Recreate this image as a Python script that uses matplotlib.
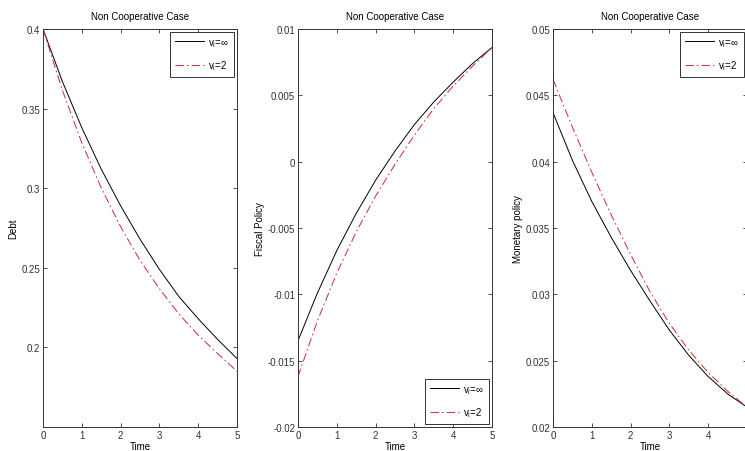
import matplotlib
matplotlib.use("Agg")
import matplotlib.pyplot as plt

# values at t = 0, 0.5, ..., 5
TIME = [0, 0.5, 1, 1.5, 2, 2.5, 3, 3.5, 4, 4.5, 5]

debt_inf = [0.400, 0.367, 0.338, 0.312, 0.289, 0.268, 0.249, 0.232, 0.218, 0.205, 0.193]
debt_two = [0.400, 0.3615, 0.3285, 0.3003, 0.2758, 0.2547, 0.2368, 0.2211, 0.2077, 0.1961, 0.185]

fiscal_inf = [-0.0135, -0.0099, -0.0067, -0.0039, -0.0014, 0.0008, 0.0028, 0.0045, 0.0060, 0.0074, 0.0086]
fiscal_two = [-0.0162, -0.0120, -0.0084, -0.0053, -0.0026, -0.0002, 0.0020, 0.0040, 0.0057, 0.0072, 0.0086]

monetary_inf = [0.0437, 0.0401, 0.0370, 0.0343, 0.0318, 0.0295, 0.0273, 0.0254, 0.0238, 0.0225, 0.0215]
monetary_two = [0.0462, 0.0426, 0.0392, 0.0360, 0.0330, 0.0302, 0.0278, 0.0258, 0.0241, 0.0227, 0.0215]

TITLE = "Non Cooperative Case"
LABELS = ["v$_\\mathregular{i}$=\u221e", "v$_\\mathregular{i}$=2"]

PANELS = [
    ("Debt", debt_inf, debt_two, (0.15, 0.4), [0.2, 0.25, 0.3, 0.35, 0.4],
     ["0.2", "0.25", "0.3", "0.35", "0.4"], "upper right"),
    ("Fiscal Policy", fiscal_inf, fiscal_two, (-0.02, 0.01),
     [-0.02, -0.015, -0.01, -0.005, 0, 0.005, 0.01],
     ["-0.02", "-0.015", "-0.01", "-0.005", "0", "0.005", "0.01"], "lower right"),
    ("Monetary policy", monetary_inf, monetary_two, (0.02, 0.05),
     [0.02, 0.025, 0.03, 0.035, 0.04, 0.045, 0.05],
     ["0.02", "0.025", "0.03", "0.035", "0.04", "0.045", "0.05"], "upper right"),
]

plt.rcParams["font.family"] = ["Liberation Sans Narrow", "Liberation Sans", "DejaVu Sans"]
plt.rcParams["font.size"] = 7
plt.rcParams["axes.unicode_minus"] = False

W, H = 745, 452
fig = plt.figure(figsize=(W / 100, H / 100), dpi=100)
lefts = [43, 298, 553]
for left, (ylab, s_inf, s_two, ylim, yt, ytl, loc) in zip(lefts, PANELS):
    ax = fig.add_axes([left / W, 24 / H, 194 / W, 398 / H])
    ax.plot(TIME, s_inf, color="black", lw=0.7, label=LABELS[0])
    ax.plot(TIME, s_two, color="#d03535", lw=0.75, ls=(0, (8, 3, 1.5, 3)), label=LABELS[1])
    ax.set_xlim(0, 5)
    ax.set_ylim(*ylim)
    ax.set_xticks(range(6))
    ax.set_yticks(yt)
    ax.set_yticklabels(ytl)
    ax.tick_params(direction="in", top=True, right=True, length=3, width=0.6,
                   labelsize=7, pad=2, colors="#333333")
    for sp in ax.spines.values():
        sp.set_linewidth(0.7)
        sp.set_color("#333333")
    ax.set_title(TITLE, fontsize=7, pad=7)
    ax.set_xlabel("Time", fontsize=7, labelpad=1)
    ax.set_ylabel(ylab, fontsize=7, labelpad=2)
    leg = ax.legend(loc=loc, fancybox=False, framealpha=1, edgecolor="#333333",
                    fontsize=7, handlelength=3.0, borderaxespad=0.3,
                    labelspacing=1.0, handletextpad=0.4, borderpad=0.5)
    leg.get_frame().set_linewidth(0.7)

fig.savefig("out.png", dpi=100)
